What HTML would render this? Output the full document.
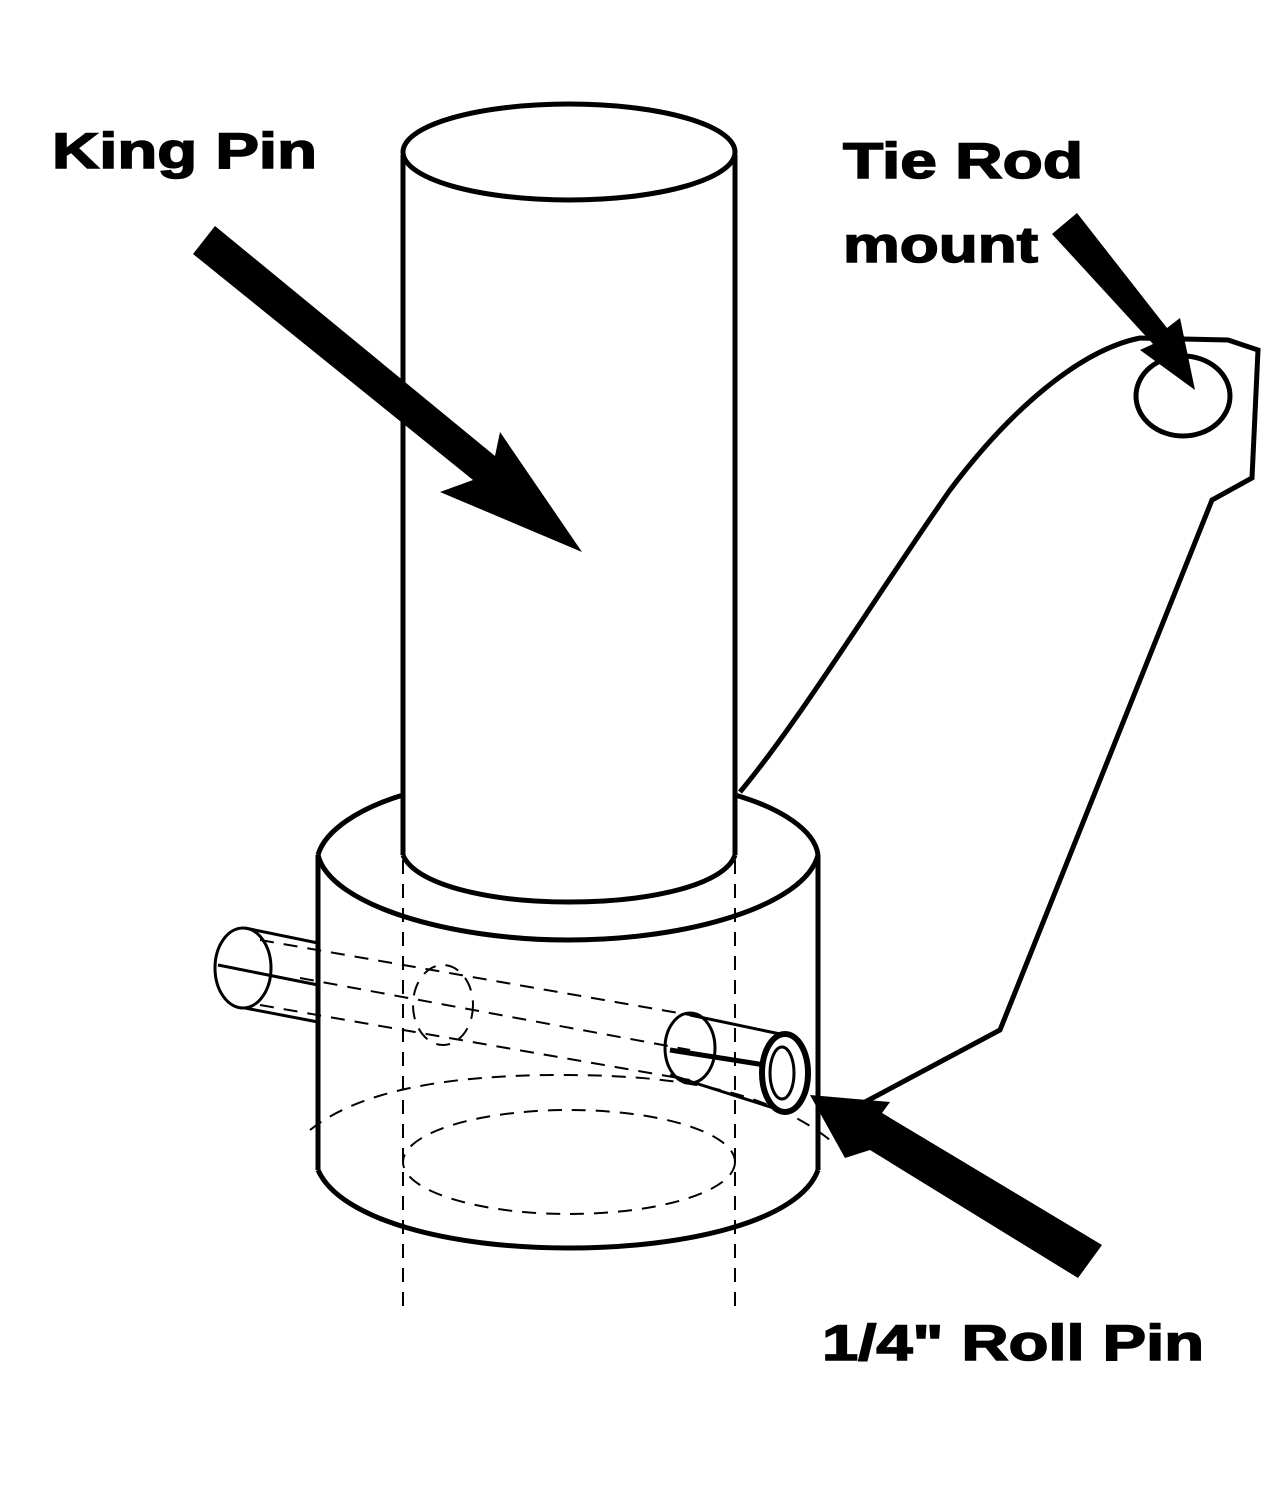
<!DOCTYPE html>
<html><head><style>html,body{margin:0;padding:0;background:#fff}svg{display:block}</style></head>
<body>
<svg width="1280" height="1485" viewBox="0 0 1280 1485" xmlns="http://www.w3.org/2000/svg">
<rect width="1280" height="1485" fill="#fff"/>
<g fill="none" stroke="#000" stroke-width="5">
<path d="M740 792 C800 720 880 590 950 490 C1010 410 1080 350 1140 338 L1228 340 L1258 350 L1252 478 L1212 500 L1000 1030 L850 1110"/>
<ellipse cx="1183" cy="396" rx="47" ry="40"/>
<path d="M318 855 C325 830 360 808 403 795"/>
<path d="M735 795 C780 808 815 830 818 855"/>
<path d="M318 855 C330 905 450 940 568 940 C690 940 805 905 818 855"/>
<line x1="318" y1="855" x2="318" y2="1170"/>
<line x1="818" y1="855" x2="818" y2="1170"/>
<path d="M318 1170 C340 1220 450 1248 568 1248 C690 1248 800 1220 818 1170"/>
<ellipse cx="569" cy="152" rx="166" ry="48" fill="#fff"/>
<line x1="403" y1="155" x2="403" y2="855"/>
<line x1="735" y1="155" x2="735" y2="855"/>
<path d="M403 855 C415 885 490 902 569 902 C650 902 725 885 735 855"/>
</g>
<g fill="none" stroke="#000" stroke-width="2" stroke-dasharray="14,10">
<line x1="403" y1="860" x2="403" y2="1315"/>
<line x1="735" y1="860" x2="735" y2="1315"/>
<ellipse cx="569" cy="1162" rx="166" ry="52"/>
<path d="M310 1130 C360 1090 450 1075 560 1075 C660 1075 760 1085 830 1140"/>
<line x1="260" y1="940" x2="690" y2="1015"/>
<line x1="260" y1="1005" x2="690" y2="1080"/>
<ellipse cx="443" cy="1005" rx="30" ry="40"/>
<line x1="300" y1="978" x2="690" y2="1050"/>
</g>
<g fill="none" stroke="#000" stroke-width="3">
<ellipse cx="243" cy="968" rx="28" ry="40"/>
<line x1="245" y1="928" x2="318" y2="943"/>
<line x1="245" y1="1008" x2="318" y2="1022"/>
<line x1="218" y1="965" x2="318" y2="985"/>
<path d="M690 1015 L785 1035"/>
<path d="M670 1075 L780 1110"/>
<ellipse cx="690" cy="1048" rx="25" ry="35"/>
<ellipse cx="785" cy="1073" rx="23" ry="39" stroke-width="6"/>
<ellipse cx="782" cy="1073" rx="12" ry="26"/>
<line x1="670" y1="1050" x2="765" y2="1065" stroke-width="5"/>
</g>
<g fill="#000">
<polygon points="193,254 215,226 495,456 500,432 582,552 440,492 473,480"/>
<polygon points="1052,234 1077,213 1167,328 1180,318 1195,390 1140,350 1153,344"/>
<polygon points="1102,1245 1078,1278 870,1150 845,1158 810,1095 890,1102 882,1113"/>
</g>
<g font-family="'Liberation Sans',sans-serif" font-weight="900" fill="#000" stroke="#000" stroke-width="1.5" font-size="50">
<text x="52" y="168" textLength="265" lengthAdjust="spacingAndGlyphs">King Pin</text>
<text x="843" y="178" textLength="240" lengthAdjust="spacingAndGlyphs">Tie Rod</text>
<text x="843" y="262" textLength="195" lengthAdjust="spacingAndGlyphs">mount</text>
<text x="822" y="1360" textLength="382" lengthAdjust="spacingAndGlyphs">1/4" Roll Pin</text>
</g>
</svg>
</body></html>
